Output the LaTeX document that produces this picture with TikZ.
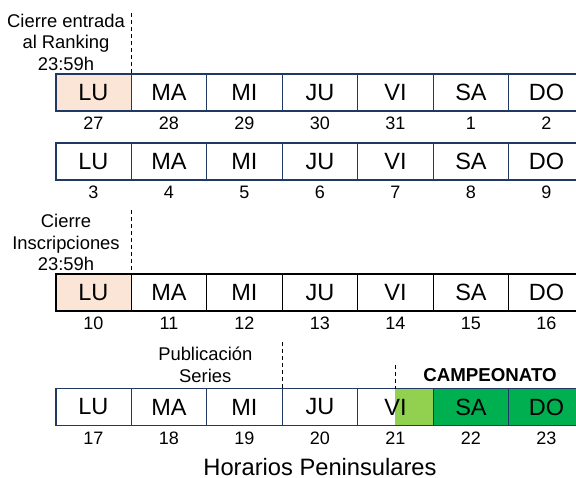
\documentclass[tikz,border=0pt]{standalone}
\usepackage{fontspec}
\setmainfont{Liberation Sans}
\usetikzlibrary{positioning,backgrounds}

\definecolor{framenavy}{HTML}{1F3864}
\definecolor{lunpeach}{HTML}{FBE5D6}
\definecolor{champlight}{HTML}{92D050}
\definecolor{champgreen}{HTML}{00B050}

\tikzset{
  daycell/.style={minimum width=75.5pt, minimum height=37pt, inner sep=0pt,
    outer sep=0pt, font=\fontsize{23.5}{27}\selectfont},
  daynum/.style={inner sep=0pt, font=\fontsize{18}{21}\selectfont},
  notelabel/.style={inner sep=0pt, align=center, font=\fontsize{18.4}{21.5}\selectfont},
  cutline/.style={line width=1.1pt, dash pattern=on 4pt off 3pt},
  sepline/.style={line width=1pt},
  rowframe/.style={line width=1.7pt},
}

\begin{document}
\begin{tikzpicture}[x=1pt,y=-1pt]
\useasboundingbox (0,0) rectangle (576,477);

% weeks
\foreach \r/\y/\nums in {1/92.5/{27,28,29,30,31,1,2},
                         2/161.2/{3,4,5,6,7,8,9},
                         3/292.7/{10,11,12,13,14,15,16},
                         4/407/{17,18,19,20,21,22,23}}{
  \node[daycell] (w\r d1) at (93.45,\y) {LU};
  \foreach \d/\i/\p in {MA/2/1,MI/3/2,JU/4/3,VI/5/4,SA/6/5,DO/7/6}
    \node[daycell, right=0pt of w\r d\p] (w\r d\i) {\d};
  \foreach \n [count=\i] in \nums
    \node[daynum] (n\r d\i) at ([yshift=-12.5pt]w\r d\i.south) {\n};
}

% fills
\begin{scope}[on background layer]
  \fill[lunpeach] (w1d1.north west) rectangle (w1d1.south east);
  \fill[lunpeach] (w3d1.north west) rectangle (w3d1.south east);
  \fill[champlight] (w4d5.north) rectangle (w4d5.south east);
  \fill[champgreen] (w4d6.north west) rectangle (w4d7.south east);
\end{scope}

% borders
\foreach \r/\col in {1/framenavy,2/framenavy,3/black,4/framenavy}{
  \foreach \i in {1,...,6}
    \draw[sepline, draw=\col] (w\r d\i.north east) -- (w\r d\i.south east);
  \draw[rowframe, draw=\col] (w\r d1.north west) rectangle (w\r d7.south east);
}

% deadlines
\coordinate (rankmark) at ([yshift=61pt]w1d1.north east);
\coordinate (regmark) at ([yshift=64pt]w3d1.north east);
\coordinate (pubmark) at ([yshift=46.6pt]w4d3.north east);
\coordinate (champmark) at ([yshift=23.3pt]w4d5.north);
\draw[cutline] (rankmark) -- (w1d1.north east);
\draw[cutline] (regmark) -- (w3d1.north east);
\draw[cutline] (pubmark) -- (w4d3.north east);
\draw[cutline] (champmark) -- (w4d5.north);

\node[notelabel] (rankclose) at (66,42) {Cierre entrada\\al Ranking\\23:59h};
\node[notelabel] (regclose) at (66,242.5) {Cierre\\Inscripciones\\23:59h};
\node[notelabel] (seriespub) at (205.3,365) {Publicación\\Series};
\node[inner sep=0pt, anchor=base, font=\bfseries\fontsize{18.7}{22}\selectfont]
  (champ) at (490,381.5) {CAMPEONATO};
\node[inner sep=0pt, anchor=base, font=\fontsize{23.7}{27}\selectfont]
  (tzone) at (320,475.5) {Horarios Peninsulares};

\end{tikzpicture}
\end{document}
